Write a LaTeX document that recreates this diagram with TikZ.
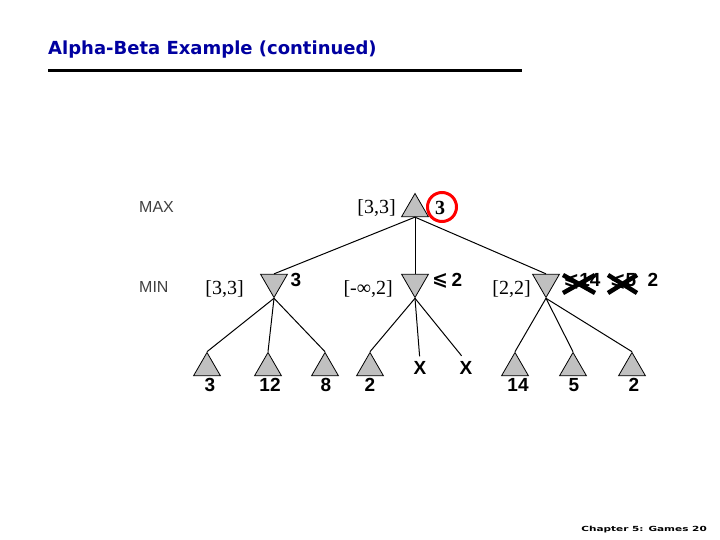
\documentclass[tikz,border=0pt]{standalone}
\usepackage{fontspec}
\setmainfont{Liberation Serif}
\newfontfamily\arialf{Liberation Sans}
\newfontfamily\dejavu{DejaVu Sans}
\usetikzlibrary{shapes.geometric}
\definecolor{titleblue}{RGB}{0,0,160}
\definecolor{trigray}{RGB}{192,192,192}
\begin{document}
\begin{tikzpicture}[x=1pt,y=-1pt,
 tri/.style={regular polygon, regular polygon sides=3, draw=black, fill=trigray, inner sep=0pt, minimum size=31pt, line width=0.8pt},
 maxtri/.style={tri},
 mintri/.style={tri, shape border rotate=180},
 edge/.style={line width=1pt},
 val/.style={font=\arialf\bfseries\fontsize{19}{19}\selectfont, inner sep=0pt},
 leq/.style={font=\dejavu\bfseries\fontsize{19}{19}\selectfont, inner sep=0pt},
 bnd/.style={font=\fontsize{20}{20}\selectfont, inner sep=0pt},
 lvl/.style={font=\arialf\fontsize{16}{16}\selectfont, text=black!75, inner sep=0pt},
 cross/.style={line width=4.5pt},
]
\useasboundingbox (0,0) rectangle (720,540);
% title
\node[anchor=base west, font=\dejavu\bfseries\fontsize{18}{18}\selectfont, text=titleblue, inner sep=0pt] (title) at (48,55) {Alpha-Beta Example (continued)};
\draw[line width=3pt] (48,71) -- (522,71);
% level labels
\node[lvl, anchor=west] (maxl) at (139,207) {MAX};
\node[lvl, anchor=west] (minl) at (139,287) {MIN};
% root
\node[maxtri] (r) at (415,209) {};
\node[bnd, anchor=east] (rb) at (396,208) {[3,3]};
\node[bnd, font=\bfseries\fontsize{20}{20}\selectfont] (rv) at (440,208) {3};
\node[circle, draw=red, line width=3pt, minimum size=29pt, inner sep=0pt] (rc) at (442,207) {};
% min nodes
\node[mintri] (m1) at (274,282) {};
\node[mintri] (m2) at (415,282) {};
\node[mintri] (m3) at (546,282) {};
\node[bnd, anchor=east] (m1b) at (244,289) {[3,3]};
\node[bnd, anchor=east] (m2b) at (393,289) {[-∞,2]};
\node[bnd, anchor=east] (m3b) at (531,289) {[2,2]};
\node[val] (m1v) at (296,280) {3};
\node[leq] (m2l) at (440,281) {⩽};
\node[val] (m2v) at (457,280) {2};
\node[val] (m3a) at (582,281) {{\dejavu ⩽}14};
\node[val] (m3c) at (623,281) {{\dejavu ⩽}5};
\node[val] (m3v) at (653,280) {2};
\draw[cross] (563,275) -- (595,293);
\draw[cross] (563,293) -- (595,275);
\draw[cross] (608,275) -- (637,293);
\draw[cross] (608,293) -- (637,275);
% leaves
\node[maxtri] (l1) at (207,368) {};
\node[maxtri] (l2) at (268,368) {};
\node[maxtri] (l3) at (325,368) {};
\node[maxtri] (l4) at (370,368) {};
\node[val] (x1) at (420,368) {X};
\node[val] (x2) at (466,368) {X};
\node[maxtri] (l7) at (515,368) {};
\node[maxtri] (l8) at (573,368) {};
\node[maxtri] (l9) at (632,368) {};
\node[val] (v1) at (210,385) {3};
\node[val] (v2) at (270,385) {12};
\node[val] (v3) at (326,385) {8};
\node[val] (v4) at (370,385) {2};
\node[val] (v7) at (518,385) {14};
\node[val] (v8) at (574,385) {5};
\node[val] (v9) at (634,385) {2};
% edges
\draw[edge] (r.side 2) -- (m1.side 2);
\draw[edge] (r.side 2) -- (m2.side 2);
\draw[edge] (r.side 2) -- (m3.side 2);
\draw[edge] (m1.corner 1) -- (l1.corner 1);
\draw[edge] (m1.corner 1) -- (l2.corner 1);
\draw[edge] (m1.corner 1) -- (l3.corner 1);
\draw[edge] (m2.corner 1) -- (l4.corner 1);
\draw[edge, shorten >=5pt] (m2.corner 1) -- (x1.north);
\draw[edge, shorten >=7pt] (m2.corner 1) -- (x2.north);
\draw[edge] (m3.corner 1) -- (l7.corner 1);
\draw[edge] (m3.corner 1) -- (l8.corner 1);
\draw[edge] (m3.corner 1) -- (l9.corner 1);
% footer
\node[anchor=base east, font=\dejavu\bfseries\fontsize{7}{7}\selectfont, inner sep=0pt] (foot) at (707,531) {\scalebox{1.5}[1]{Chapter 5: Games 20}};
\end{tikzpicture}
\end{document}
